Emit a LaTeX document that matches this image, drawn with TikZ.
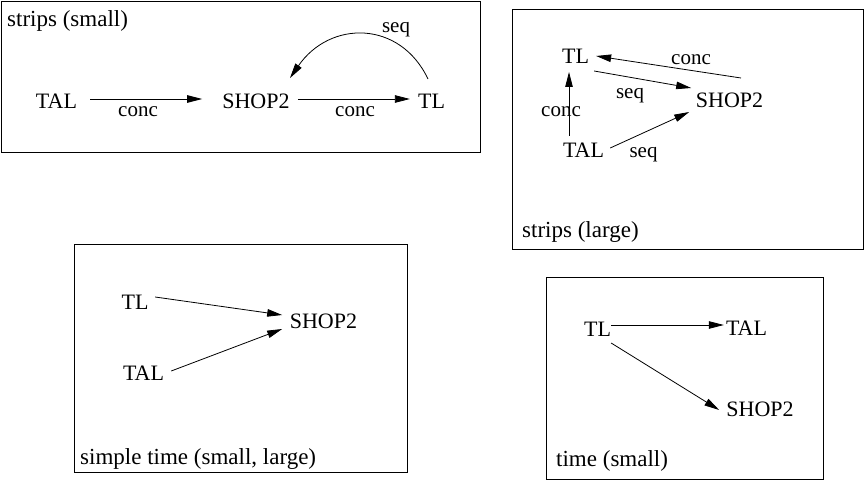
\documentclass[tikz,border=0pt]{standalone}
\usepackage{fontspec}
\setmainfont{Liberation Serif}
\usetikzlibrary{arrows.meta}
\begin{document}
\begin{tikzpicture}[x=1pt,y=-1pt,
  nodetxt/.style={inner sep=0pt, anchor=base, font=\fontsize{22}{26}\selectfont},
  edgetxt/.style={inner sep=0pt, anchor=base, font=\fontsize{21}{25}\selectfont},
  captxt/.style={inner sep=0pt, anchor=base west, font=\fontsize{23}{27}\selectfont},
  frame/.style={draw=black, line width=0.9pt},
  arr/.style={draw=black, line width=0.8pt, -{Triangle[length=15pt,width=7.5pt]}}]
\useasboundingbox (0,0) rectangle (867,481);
\fill[white] (0,0) rectangle (867,481);

% ---- box 1: strips (small)
\draw[frame] (1,1) rectangle (480,152);
\node[captxt] (cap1) at (7,27) {strips (small)};
\node[nodetxt] (tal1) at (56.5,109) {TAL};
\node[nodetxt] (shop1) at (256,109) {SHOP2};
\node[nodetxt] (tl1) at (431.5,109) {TL};
\draw[arr] ([shift={(13,-10)}]tal1.base east) -- ([shift={(-20,-10)}]shop1.base west);
\draw[arr] ([shift={(8,-10)}]shop1.base east) -- ([shift={(-8,-10)}]tl1.base west);
\draw[arr] ([shift={(-3.5,-30)}]tl1.base) .. controls +(-28,-59) and +(40,-58) .. ([shift={(34,-31)}]shop1.base);
\node[edgetxt] (c1a) at (138,117) {conc};
\node[edgetxt] (c1b) at (355,117) {conc};
\node[edgetxt] (s1) at (396,33) {seq};

% ---- box 2: strips (large)
\draw[frame] (512,9) rectangle (863,249);
\node[captxt] (cap2) at (522,237) {strips (large)};
\node[nodetxt] (tl2) at (575.5,64) {TL};
\node[nodetxt] (shop2) at (729.5,108) {SHOP2};
\node[nodetxt] (tal2) at (583.5,158) {TAL};
\draw[arr] ([shift={(11.5,-30)}]shop2.base) -- ([shift={(7,-8)}]tl2.base east);
\draw[arr] ([shift={(5,7)}]tl2.base east) -- ([shift={(-4.5,-20)}]shop2.base west);
\draw[arr] ([shift={(-14.5,-22)}]tal2.base) -- ([shift={(-6.5,8)}]tl2.base);
\draw[arr] ([shift={(6,-10)}]tal2.base east) -- ([shift={(-6.5,4)}]shop2.base west);
\node[edgetxt] (c2a) at (691,65) {conc};
\node[edgetxt] (s2a) at (630,99) {seq};
\node[edgetxt] (c2b) at (561,117) {conc};
\node[edgetxt] (s2b) at (643.5,158) {seq};

% ---- box 3: simple time (small, large)
\draw[frame] (74,244) rectangle (407,472);
\node[captxt] (cap3) at (80,464) {simple time (small, large)};
\node[nodetxt] (tl3) at (135,309) {TL};
\node[nodetxt] (shop3) at (323.5,328) {SHOP2};
\node[nodetxt] (tal3) at (143.5,380) {TAL};
\draw[arr] ([shift={(6.5,-12)}]tl3.base east) -- ([shift={(-7.5,-13)}]shop3.base west);
\draw[arr] ([shift={(7,-9)}]tal3.base east) -- ([shift={(-7.5,1)}]shop3.base west);

% ---- box 4: time (small)
\draw[frame] (546,277) rectangle (823,479);
\node[captxt] (cap4) at (556,466) {time (small)};
\node[nodetxt] (tl4) at (597.5,336) {TL};
\node[nodetxt] (tal4) at (746.5,335) {TAL};
\node[nodetxt] (shop4) at (760,416) {SHOP2};
\draw[arr] ([shift={(0,-11)}]tl4.base east) -- ([shift={(-2,-10)}]tal4.base west);
\draw[arr] ([shift={(0,7)}]tl4.base east) -- ([shift={(-7,-6)}]shop4.base west);
\end{tikzpicture}
\end{document}
